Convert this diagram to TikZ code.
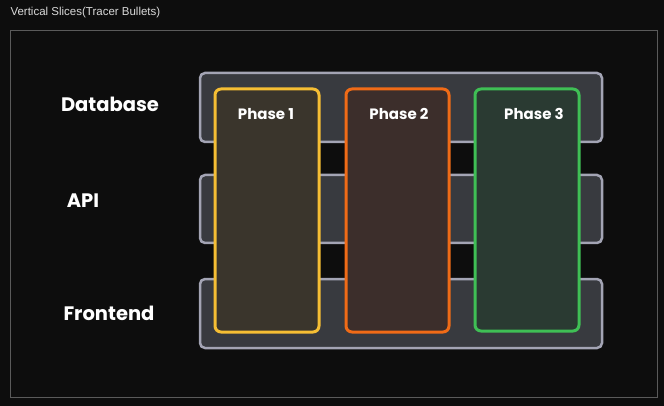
\documentclass[tikz,border=0pt]{standalone}
\usepackage{fontspec}
\setmainfont{Poppins}
\newfontfamily\uifont{Liberation Sans}
\usetikzlibrary{positioning}
\definecolor{bgdark}{HTML}{0D0D0D}
\definecolor{framegray}{HTML}{5A5A5A}
\definecolor{layerfill}{HTML}{383A3F}
\definecolor{layerline}{HTML}{A3A4B4}
\definecolor{oneline}{HTML}{F5BE34}
\definecolor{onefill}{HTML}{3A352C}
\definecolor{twoline}{HTML}{F06B17}
\definecolor{twofill}{HTML}{3C2E2B}
\definecolor{threeline}{HTML}{3FBF55}
\definecolor{threefill}{HTML}{2A3A32}
\tikzset{
	layer/.style={draw=layerline, fill=layerfill, line width=2.5pt, rounded corners=5pt},
	phase/.style={line width=3pt, rounded corners=6pt},
	phaselabel/.style={text=white, font=\fontsize{15}{18}\selectfont\bfseries},
	rowlabel/.style={text=white, font=\fontsize{19.5}{23}\selectfont\bfseries}
}
\begin{document}
\begin{tikzpicture}[x=1pt, y=-1pt]
	\fill[bgdark] (0,0) rectangle (664,406);
	\useasboundingbox (0,0) rectangle (664,406);
	\node[anchor=west, text=white!85!black, font=\uifont\fontsize{11.5}{13}\selectfont] (title) at (7,13) {Vertical Slices(Tracer Bullets)};
	\draw[framegray, line width=0.8pt] (10,30) rectangle (657,397);
	% layers
	\draw[layer] (200,73) rectangle (602,142);
	\draw[layer] (200,175) rectangle (602,243);
	\draw[layer] (200,279) rectangle (602,348);
	\node[rowlabel] (db) at (110,104) {Database};
	\node[rowlabel] (api) at (83,201) {API};
	\node[rowlabel] (fe) at (109,313) {Frontend};
	% slices
	\draw[phase, draw=oneline, fill=onefill] (215,89) rectangle (319,332);
	\draw[phase, draw=twoline, fill=twofill] (346,89) rectangle (449,332);
	\draw[phase, draw=threeline, fill=threefill] (475,89) rectangle (579,331);
	\node[phaselabel] (p1) at (266,114) {Phase 1};
	\node[phaselabel] (p2) at (399,114) {Phase 2};
	\node[phaselabel] (p3) at (534,114) {Phase 3};
\end{tikzpicture}
\end{document}
